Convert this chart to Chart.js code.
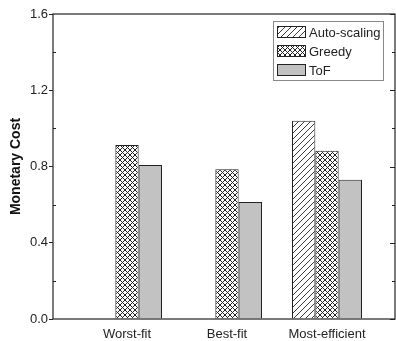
<!DOCTYPE html>
<html>
<head>
<meta charset="utf-8">
<script src="https://cdn.jsdelivr.net/npm/chart.js@4/dist/chart.umd.min.js"></script>
<style>
html, body { margin: 0; padding: 0; background: #fff; }
#wrap { width: 396px; height: 341px; }
</style>
</head>
<body>
<div id="wrap"><canvas id="chart"></canvas></div>
<script>
var categories = ['Worst-fit', 'Best-fit', 'Most-efficient'];
var autoScaling = [null, null, 1.04];
var greedy = [0.913, 0.786, 0.882];
var tof = [0.808, 0.614, 0.73];
var yTicks = [0, 0.4, 0.8, 1.2, 1.6];
var yMinor = [0.2, 0.6, 1.0, 1.4];

function points(values) {
	return values.map(function(v, i) { return {x: i + 1, y: v}; });
}

function makePattern(kind) {
	var c = document.createElement('canvas');
	var s = kind == 'diag' ? 6 : 5;
	c.width = s; c.height = s;
	var g = c.getContext('2d');
	g.fillStyle = '#fff';
	g.fillRect(0, 0, s, s);
	g.strokeStyle = '#222';
	g.lineWidth = kind == 'diag' ? 0.9 : 1.0;
	g.beginPath();
	g.moveTo(-1, s + 1); g.lineTo(s + 1, -1);
	g.moveTo(-1, 1); g.lineTo(1, -1);
	g.moveTo(s - 1, s + 1); g.lineTo(s + 1, s - 1);
	if (kind == 'cross') {
		g.moveTo(-1, -1); g.lineTo(s + 1, s + 1);
		g.moveTo(s - 1, -1); g.lineTo(s + 1, 1);
		g.moveTo(-1, s - 1); g.lineTo(1, s + 1);
	}
	g.stroke();
	return g.createPattern(c, 'repeat');
}

var frame = {
	id: 'frame',
	afterDatasetsDraw: function(chart) {
		var ctx = chart.ctx, a = chart.chartArea, y = chart.scales.y;
		ctx.save();
		ctx.strokeStyle = '#222';
		ctx.lineWidth = 1.2;
		ctx.strokeRect(a.left, a.top, a.right - a.left, a.bottom - a.top);
		ctx.lineWidth = 1;
		ctx.beginPath();
		yMinor.forEach(function(v) {
			var p = Math.round(y.getPixelForValue(v)) + 0.5;
			ctx.moveTo(a.left, p); ctx.lineTo(a.left + 3, p);
			ctx.moveTo(a.right, p); ctx.lineTo(a.right - 3, p);
		});
		yTicks.forEach(function(v) {
			var p = Math.round(y.getPixelForValue(v)) + 0.5;
			ctx.moveTo(a.right, p); ctx.lineTo(a.right - 5, p);
		});
		ctx.stroke();
		ctx.restore();
	}
};

var boxLegend = {
	id: 'boxLegend',
	afterDraw: function(chart) {
		var ctx = chart.ctx, a = chart.chartArea;
		var left = a.right - 122, top = a.top + 7;
		ctx.save();
		ctx.strokeStyle = '#888';
		ctx.lineWidth = 1;
		ctx.fillStyle = '#fff';
		ctx.fillRect(left, top, 110, 59);
		ctx.strokeRect(left + 0.5, top + 0.5, 110, 59);
		ctx.font = '13px "Liberation Sans", Arial, sans-serif';
		ctx.textBaseline = 'middle';
		chart.data.datasets.forEach(function(ds, i) {
			var cy = top + 11 + i * 19;
			ctx.fillStyle = ds.backgroundColor;
			ctx.fillRect(left + 4, cy - 5, 28, 11);
			ctx.strokeStyle = '#222';
			ctx.strokeRect(left + 4.5, cy - 5.5, 28, 11);
			ctx.fillStyle = '#222';
			ctx.fillText(ds.label, left + 36, cy + 1);
		});
		ctx.restore();
	}
};

new Chart(document.getElementById('chart'), {
	type: 'bar',
	data: {
		datasets: [
			{label: 'Auto-scaling', data: points(autoScaling), backgroundColor: makePattern('diag'), borderColor: '#222', borderWidth: 1},
			{label: 'Greedy', data: points(greedy), backgroundColor: makePattern('cross'), borderColor: '#222', borderWidth: 1},
			{label: 'ToF', data: points(tof), backgroundColor: '#c2c2c2', borderColor: '#222', borderWidth: 1}
		]
	},
	options: {
		responsive: true,
		maintainAspectRatio: false,
		animation: false,
		categoryPercentage: 0.7,
		barPercentage: 1.0,
		layout: {padding: {left: 0, top: 14, right: 1, bottom: 0}},
		plugins: {legend: {display: false}, tooltip: {enabled: false}},
		scales: {
			x: {
				type: 'linear',
				offset: false,
				min: 0.26,
				max: 3.68,
				afterBuildTicks: function(scale) {
					scale.ticks = categories.map(function(c, i) { return {value: i + 1}; });
				},
				afterFit: function(scale) { scale.height = 22; },
				grid: {display: false},
				border: {display: false},
				ticks: {
					autoSkip: false,
					maxRotation: 0,
					padding: 0,
					color: '#222',
					font: {family: '"Liberation Sans", Arial, sans-serif', size: 13},
					callback: function(v) { return categories[v - 1]; }
				}
			},
			y: {
				min: 0,
				max: 1.6,
				afterBuildTicks: function(scale) {
					scale.ticks = yTicks.map(function(v) { return {value: v}; });
				},
				afterFit: function(scale) { scale.width = 53; },
				grid: {drawOnChartArea: false, drawTicks: true, tickLength: 4, color: '#222'},
				border: {display: false},
				ticks: {
					padding: 1,
					color: '#222',
					font: {family: '"Liberation Sans", Arial, sans-serif', size: 13},
					callback: function(v) { return v.toFixed(1); }
				},
				title: {
					display: true,
					text: 'Monetary Cost',
					color: '#111',
					padding: {top: 8, bottom: 0},
					font: {family: '"Liberation Sans", Arial, sans-serif', size: 14, weight: 'bold'}
				}
			}
		}
	},
	plugins: [frame, boxLegend]
});
</script>
</body>
</html>
